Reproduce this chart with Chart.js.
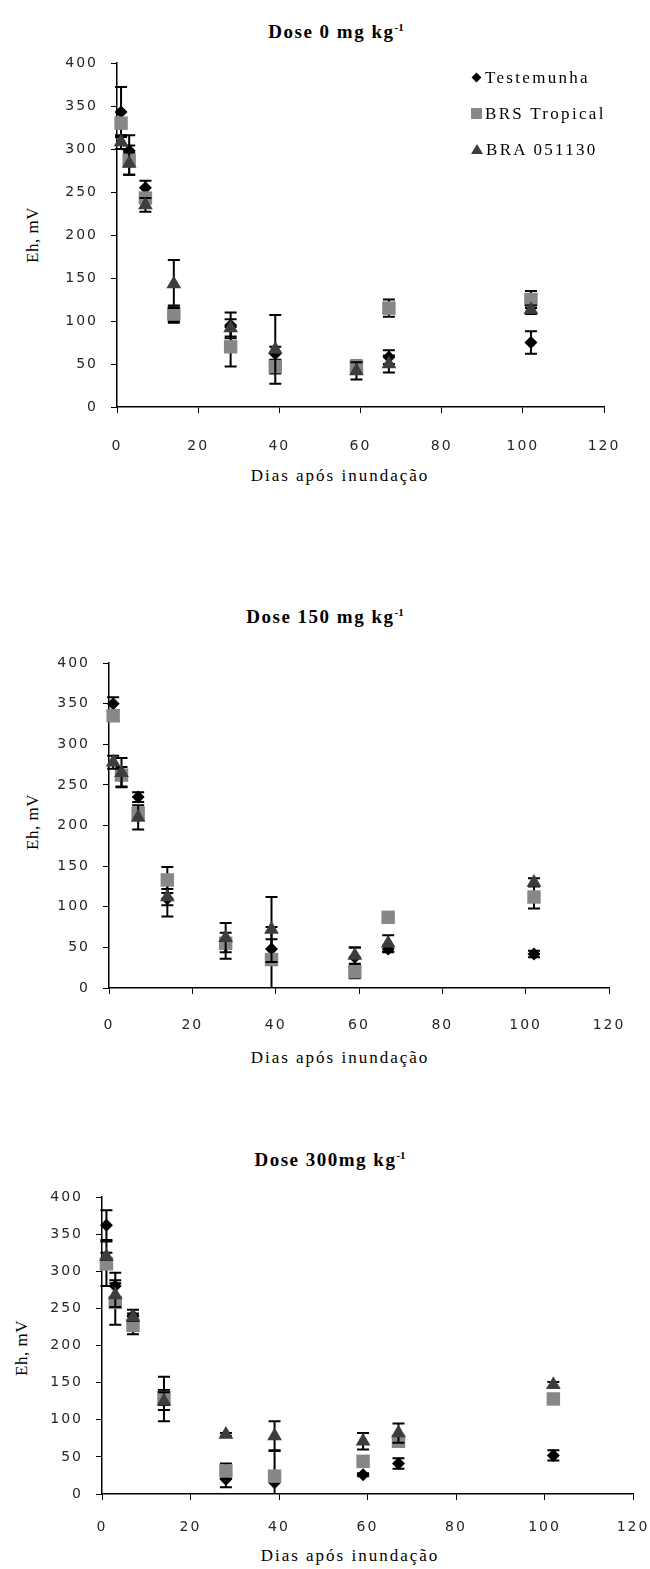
<!DOCTYPE html>
<html>
<head>
<meta charset="utf-8">
<script src="https://cdn.jsdelivr.net/npm/chart.js@4.4.0/dist/chart.umd.min.js"></script>
<style>
body { margin:0; background:#fff; width:650px; height:1569px; position:relative; overflow:hidden; }
.bloco { position:absolute; left:0; width:650px; }
.txt { position:absolute; transform:translate(-50%,-50%); white-space:nowrap; color:#000; font-family:"Liberation Serif", serif; }
.titulo { font-size:19px; font-weight:bold; letter-spacing:1.5px; }
.titulo sup { font-size:11px; letter-spacing:0; }
.eixo-x { font-size:17px; letter-spacing:2px; }
.eixo-y { font-size:17px; letter-spacing:0.5px; transform:translate(-50%,-50%) rotate(-90deg); }
#legenda { position:absolute; left:471px; top:66px; font-family:"Liberation Serif", serif; font-size:17px; letter-spacing:2.3px; }
#legenda div { height:36px; line-height:24px; white-space:nowrap; }
.mk { display:inline-block; vertical-align:middle; margin-right:3px; position:relative; top:-2px; }
</style>
</head>
<body>

<div class="txt titulo" style="left:336px;top:32px">Dose 0 mg kg<sup>-1</sup></div>
<div class="txt eixo-y" style="left:33px;top:235px">Eh, mV</div>
<div class="txt eixo-x" style="left:340px;top:476px">Dias após inundação</div>
<div class="bloco" style="top:40px;height:430px"><canvas id="g0" width="650" height="430"></canvas></div>
<div id="legenda"></div>

<div class="txt titulo" style="left:325px;top:617px">Dose 150 mg kg<sup>-1</sup></div>
<div class="txt eixo-y" style="left:33px;top:822px">Eh, mV</div>
<div class="txt eixo-x" style="left:340px;top:1058px">Dias após inundação</div>
<div class="bloco" style="top:630px;height:420px"><canvas id="g1" width="650" height="420"></canvas></div>

<div class="txt titulo" style="left:330px;top:1160px">Dose 300mg kg<sup>-1</sup></div>
<div class="txt eixo-y" style="left:22px;top:1348px">Eh, mV</div>
<div class="txt eixo-x" style="left:350px;top:1556px">Dias após inundação</div>
<div class="bloco" style="top:1170px;height:380px"><canvas id="g2" width="650" height="380"></canvas></div>

<script>
// dias de coleta e eixos
var dias = [1, 3, 7, 14, 28, 39, 59, 67, 102];
var x_ticks = [0, 20, 40, 60, 80, 100, 120];
var y_ticks = [0, 50, 100, 150, 200, 250, 300, 350, 400];
var series = ['Testemunha', 'BRS Tropical', 'BRA 051130'];

// Dose 0 mg kg-1
var d0_test = [343, 298, 255, 108, 95, 62, 45, 58, 75];
var d0_test_err = [29, 18, 8, 8, 15, 8, 5, 8, 13];
var d0_brs = [330, 287, 243, 108, 70, 47, 47, 115, 125];
var d0_brs_err = [5, 17, 5, 10, 23, 8, 7, 10, 10];
var d0_bra = [308, 283, 235, 143, 92, 67, 42, 50, 113];
var d0_bra_err = [8, 13, 8, 28, 10, 40, 10, 10, 5];

// Dose 150 mg kg-1
var d150_test = [350, 260, 235, 110, 52, 48, 38, 48, 42];
var d150_test_err = [8, 12, 6, 22, 16, 12, 12, 4, 4];
var d150_brs = [335, 262, 215, 133, 55, 35, 20, 87, 112];
var d150_brs_err = [5, 5, 5, 16, 5, 40, 8, 3, 14];
var d150_bra = [278, 265, 210, 112, 62, 72, 40, 55, 130];
var d150_bra_err = [8, 18, 15, 10, 18, 40, 10, 10, 5];

// Dose 300 mg kg-1
var d300_test = [362, 280, 240, 128, 20, 15, 26, 41, 52];
var d300_test_err = [20, 18, 8, 30, 11, 44, 2, 7, 7];
var d300_brs = [310, 258, 227, 130, 31, 24, 44, 71, 128];
var d300_brs_err = [30, 30, 12, 10, 10, 5, 4, 3, 3];
var d300_bra = [320, 268, 238, 125, 80, 78, 71, 82, 147];
var d300_bra_err = [5, 16, 5, 12, 2, 20, 11, 13, 4];

var cores = ['#000000', '#878787', '#3d3d3d'];
var formas = ['rectRot', 'rect', 'triangle'];
var raios = [6.5, 9.5, 8.5];

// barras de erro, desenhadas antes dos marcadores de cada serie
var barrasErro = {
    id: 'barrasErro',
    beforeDatasetDraw: function(chart, args){
        var ds = chart.data.datasets[args.index];
        if(!ds.erros) return;
        var ctx = chart.ctx, sx = chart.scales.x, sy = chart.scales.y, a = chart.chartArea;
        ctx.save();
        ctx.beginPath();
        ctx.rect(a.left - 10, a.top - 10, a.right - a.left + 20, a.bottom - a.top + 10);
        ctx.clip();
        ctx.strokeStyle = '#000';
        ctx.lineWidth = 2;
        for(var i = 0; i < ds.data.length; i++){
            var p = ds.data[i], e = ds.erros[i];
            var px = sx.getPixelForValue(p.x);
            var y1 = sy.getPixelForValue(p.y + e);
            var y2 = sy.getPixelForValue(p.y - e);
            ctx.beginPath();
            ctx.moveTo(px, y1); ctx.lineTo(px, y2);
            ctx.moveTo(px - 6, y1); ctx.lineTo(px + 6, y1);
            ctx.moveTo(px - 6, y2); ctx.lineTo(px + 6, y2);
            ctx.stroke();
        }
        ctx.restore();
    }
};

// espacamento das letras dos rotulos dos eixos
var espaco = {
    id: 'espaco',
    beforeLayout: function(chart){ chart.ctx.letterSpacing = '2px'; },
    beforeDraw: function(chart){ chart.ctx.letterSpacing = '2px'; }
};

function pontos(valores){
    return dias.map(function(d, i){ return {x: d, y: valores[i]}; });
}

function grafico(id, valores, erros, g){
    var datasets = [];
    for(var i = 0; i < series.length; i++){
        datasets.push({
            label: series[i],
            data: pontos(valores[i]),
            erros: erros[i],
            pointStyle: formas[i],
            pointRadius: raios[i],
            pointHoverRadius: raios[i],
            backgroundColor: cores[i],
            borderColor: cores[i],
            borderWidth: 0,
            showLine: false,
            clip: false,
            order: series.length - i
        });
    }
    return new Chart(document.getElementById(id), {
        type: 'scatter',
        data: { datasets: datasets },
        plugins: [barrasErro, espaco],
        options: {
            responsive: false,
            animation: false,
            devicePixelRatio: 1,
            layout: { padding: { top: g.top, right: g.right, left: 0, bottom: 0 } },
            plugins: { legend: { display: false }, tooltip: { enabled: false }, title: { display: false } },
            scales: {
                x: {
                    type: 'linear', min: 0, max: 120,
                    afterBuildTicks: function(s){ s.ticks = x_ticks.map(function(v){ return {value: v}; }); },
                    afterFit: function(s){ s.height = g.xh; s.paddingRight = 0; s.paddingLeft = 0; },
                    grid: { display: true, drawOnChartArea: false, drawTicks: true, tickLength: 6, color: '#000', lineWidth: 1 },
                    border: { display: true, color: '#000', width: 1.5 },
                    ticks: { font: { family: 'DejaVu Sans', size: 14 }, color: '#262626', padding: g.xpad, maxRotation: 0 }
                },
                y: {
                    type: 'linear', min: 0, max: 400,
                    afterBuildTicks: function(s){ s.ticks = y_ticks.map(function(v){ return {value: v}; }); },
                    afterFit: function(s){ s.width = g.yw; },
                    grid: { display: true, drawOnChartArea: false, drawTicks: true, tickLength: 6, color: '#000', lineWidth: 1 },
                    border: { display: true, color: '#000', width: 1.5 },
                    ticks: { font: { family: 'DejaVu Sans', size: 14 }, color: '#262626', padding: 13 }
                }
            }
        }
    });
}

function legenda(){
    var html = '';
    var mk = [
        '<span class="mk" style="width:7px;height:7px;background:' + cores[0] + ';transform:rotate(45deg);margin-left:2px;margin-right:5px"></span>',
        '<span class="mk" style="width:11px;height:11px;background:' + cores[1] + '"></span>',
        '<span class="mk" style="width:0;height:0;border-left:6px solid transparent;border-right:6px solid transparent;border-bottom:10px solid ' + cores[2] + '"></span>'
    ];
    for(var i = 0; i < series.length; i++){
        html += '<div>' + mk[i] + series[i] + '</div>';
    }
    document.getElementById('legenda').innerHTML = html;
}

grafico('g0', [d0_test, d0_brs, d0_bra], [d0_test_err, d0_brs_err, d0_bra_err],
    { top: 23, right: 46, yw: 117, xh: 63, xpad: 25 });
grafico('g1', [d150_test, d150_brs, d150_bra], [d150_test_err, d150_brs_err, d150_bra_err],
    { top: 33, right: 41, yw: 109, xh: 62, xpad: 23 });
grafico('g2', [d300_test, d300_brs, d300_bra], [d300_test_err, d300_brs_err, d300_bra_err],
    { top: 27, right: 17, yw: 102, xh: 56, xpad: 19 });
legenda();
</script>
</body>
</html>
